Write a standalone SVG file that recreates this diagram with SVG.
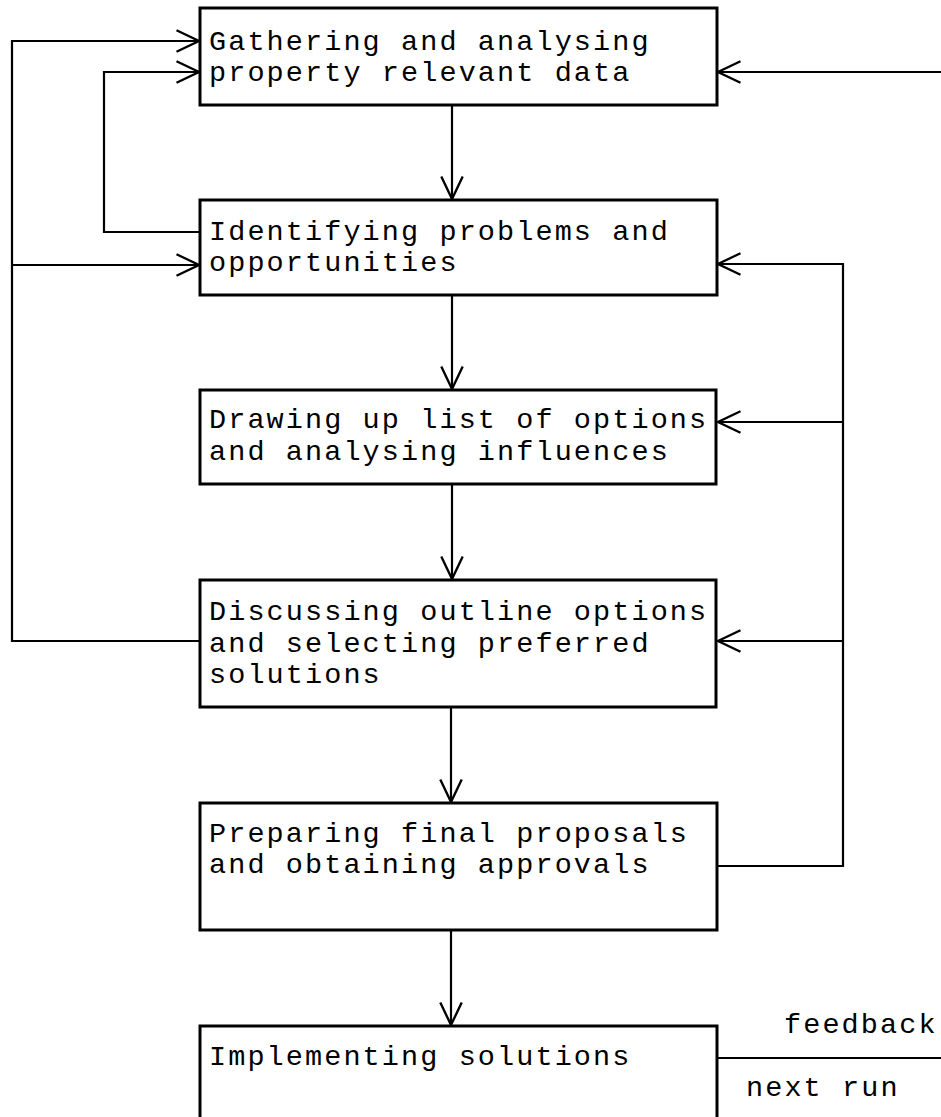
<svg xmlns="http://www.w3.org/2000/svg" width="941" height="1117" viewBox="0 0 941 1117">
  <style>
    .box { fill: #fff; stroke: #000; stroke-width: 3; }
    .lbl { font-family: "Liberation Mono", "Courier New", monospace; font-size: 28.5px; letter-spacing: 2.1px; fill: #000; }
    .wire { fill: none; stroke: #000; stroke-width: 2.2; }
    .arr { marker-end: url(#head); }
  </style>
  <defs>
    <marker id="head" markerUnits="userSpaceOnUse" markerWidth="30" markerHeight="30" viewBox="-24 -12 28 24" refX="0" refY="0" orient="auto">
      <path d="M-21,-10 L0,0 L-21,10" fill="none" stroke="#000" stroke-width="2.2"/>
    </marker>
  </defs>
  <rect width="941" height="1117" fill="#fff"/>

  <g id="connectors">
    <!-- downward flow between steps -->
    <line class="wire arr" x1="452" y1="105" x2="452" y2="199"/>
    <line class="wire arr" x1="452" y1="295" x2="452" y2="389"/>
    <line class="wire arr" x1="452" y1="484" x2="452" y2="579"/>
    <line class="wire arr" x1="451" y1="707" x2="451" y2="802"/>
    <line class="wire arr" x1="451" y1="930" x2="451" y2="1025"/>
    <!-- outer left loop from discussing step -->
    <polyline class="wire arr" points="200,641 12,641 12,41 199,41"/>
    <line class="wire arr" x1="12" y1="265" x2="199" y2="265"/>
    <!-- inner left loop from identifying step -->
    <polyline class="wire arr" points="200,232 104,232 104,72 199,72"/>
    <!-- incoming from the right edge -->
    <line class="wire arr" x1="941" y1="72" x2="718" y2="72"/>
    <!-- right loop from preparing step -->
    <polyline class="wire arr" points="717,866 843,866 843,264 718,264"/>
    <line class="wire arr" x1="843" y1="422" x2="718" y2="422"/>
    <line class="wire arr" x1="843" y1="641" x2="718" y2="641"/>
    <!-- outgoing from implementing step -->
    <line class="wire" x1="717" y1="1058" x2="941" y2="1058"/>
  </g>

  <g id="step-gathering">
    <rect class="box" x="200" y="8" width="517" height="97"/>
    <text class="lbl" x="209" y="50">Gathering and analysing</text>
    <text class="lbl" x="209" y="81">property relevant data</text>
  </g>
  <g id="step-identifying">
    <rect class="box" x="200" y="200" width="517" height="95"/>
    <text class="lbl" x="209" y="240">Identifying problems and</text>
    <text class="lbl" x="209" y="271">opportunities</text>
  </g>
  <g id="step-drawing">
    <rect class="box" x="200" y="390" width="516" height="94"/>
    <text class="lbl" x="209" y="428">Drawing up list of options</text>
    <text class="lbl" x="209" y="460">and analysing influences</text>
  </g>
  <g id="step-discussing">
    <rect class="box" x="200" y="580" width="516" height="127"/>
    <text class="lbl" x="209" y="620">Discussing outline options</text>
    <text class="lbl" x="209" y="652">and selecting preferred</text>
    <text class="lbl" x="209" y="683">solutions</text>
  </g>
  <g id="step-preparing">
    <rect class="box" x="200" y="803" width="517" height="127"/>
    <text class="lbl" x="209" y="842">Preparing final proposals</text>
    <text class="lbl" x="209" y="873">and obtaining approvals</text>
  </g>
  <g id="step-implementing">
    <rect class="box" x="200" y="1026" width="517" height="120"/>
    <text class="lbl" x="209" y="1065">Implementing solutions</text>
  </g>
  <g id="labels">
    <text class="lbl" x="784" y="1033">feedback</text>
    <text class="lbl" x="746" y="1096">next run</text>
  </g>
</svg>
